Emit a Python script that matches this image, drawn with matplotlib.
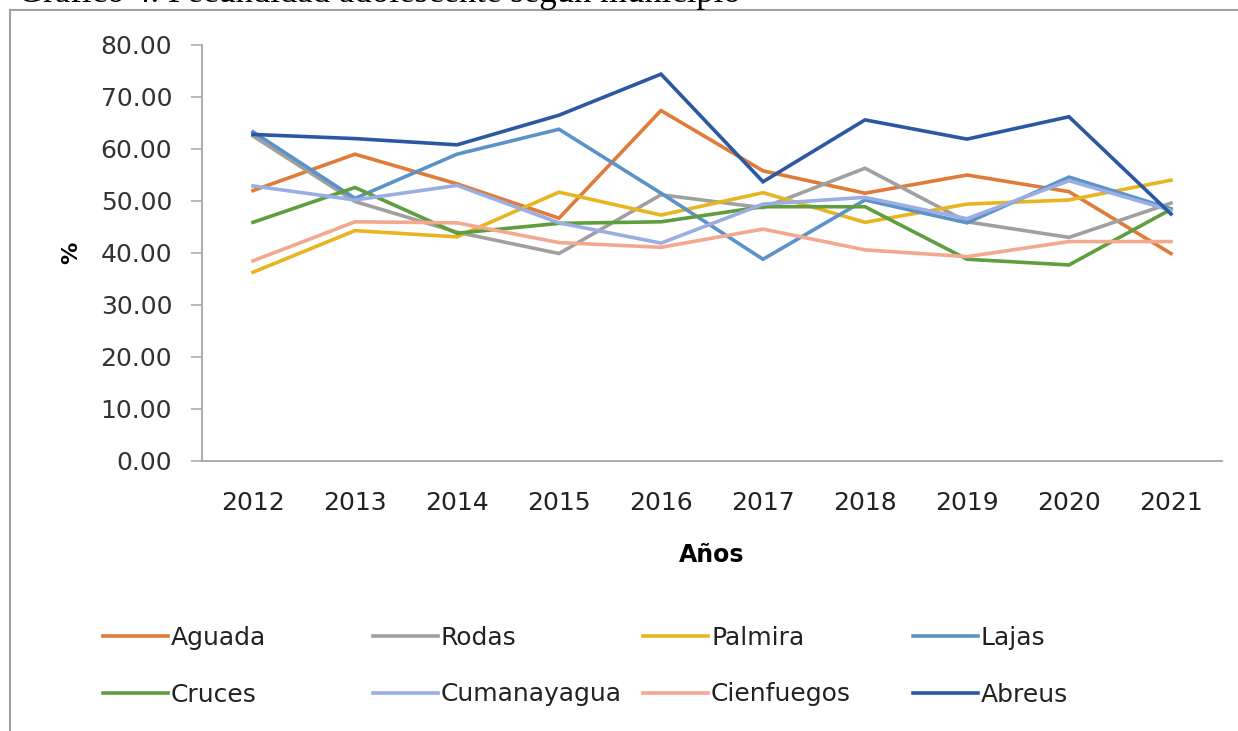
import matplotlib
matplotlib.use("Agg")
import matplotlib.pyplot as plt
from matplotlib.lines import Line2D

# data
years = ["2012", "2013", "2014", "2015", "2016", "2017", "2018", "2019", "2020", "2021"]

aguada = [52.0, 59.0, 53.3, 46.7, 67.4, 55.8, 51.5, 55.0, 51.8, 39.9]
rodas = [62.5, 49.9, 44.0, 39.9, 51.2, 48.7, 56.3, 46.0, 43.0, 49.6]
palmira = [36.3, 44.3, 43.1, 51.7, 47.3, 51.6, 45.9, 49.4, 50.2, 54.0]
lajas = [63.3, 50.5, 59.0, 63.8, 51.5, 38.8, 50.2, 45.8, 54.6, 48.5]
cruces = [45.9, 52.6, 43.8, 45.7, 46.0, 48.9, 48.9, 38.8, 37.7, 48.4]
cumanayagua = [52.9, 50.2, 53.0, 45.8, 41.9, 49.4, 50.7, 46.6, 53.9, 48.2]
cienfuegos = [38.5, 46.0, 45.8, 42.0, 41.1, 44.6, 40.6, 39.3, 42.2, 42.2]
abreus = [62.8, 62.0, 60.8, 66.5, 74.4, 53.7, 65.6, 61.9, 66.2, 47.5]

names = ["Aguada", "Rodas", "Palmira", "Lajas", "Cruces", "Cumanayagua", "Cienfuegos", "Abreus"]
series = [aguada, rodas, palmira, lajas, cruces, cumanayagua, cienfuegos, abreus]
colors = ["#E07B39", "#A0A0A0", "#E8B520", "#5B93C9", "#5E9E3E", "#9AAEE2", "#F2A98E", "#2B57A3"]

plt.rcParams['font.family'] = ['DejaVu Sans']

# set figure parameters
fig = plt.figure(figsize=(12.38, 7.31), dpi=100)
ax = fig.add_axes([202/1238, 1 - 461/731, 1020/1238, (461 - 45)/731])

# do plot
x = list(range(len(years)))
handles = []
for name, vals, col in zip(names, series, colors):
    ln, = ax.plot(x, vals, color=col, lw=2.6, label=name, solid_joinstyle='miter')
    handles.append(ln)

ax.set_xlim(-0.5, len(years) - 0.5)
ax.set_ylim(0, 80)
ax.set_yticks(range(0, 81, 10))
ax.set_yticklabels(["%.2f" % v for v in range(0, 81, 10)])
ax.set_xticks(x)
ax.set_xticklabels(years)

ax.spines['top'].set_visible(False)
ax.spines['right'].set_visible(False)
for s in ['left', 'bottom']:
    ax.spines[s].set_color('#A6A6A6')
    ax.spines[s].set_linewidth(1.3)
ax.tick_params(axis='y', length=8, width=1.1, color='#A6A6A6', pad=13.5, labelsize=18, labelcolor='#333333')
ax.tick_params(axis='x', length=0, pad=21.5, labelsize=18, labelcolor='#222222')

ax.set_xlabel("Años", fontsize=17, fontweight='bold', labelpad=20)
ax.set_ylabel("%", fontsize=16, fontweight='bold')
ax.yaxis.set_label_coords(-0.118, 0.5)

# legend: 4 columns of 2 rows
col_x = [103/1238, 373/1238, 643/1238, 913/1238]
for i in range(4):
    leg = fig.legend(handles=[handles[i], handles[i + 4]], loc='upper left',
                     bbox_to_anchor=(col_x[i], 1 - 626/731), frameon=False,
                     fontsize=18, handlelength=2.6, handletextpad=0.12,
                     borderpad=0, borderaxespad=0, labelspacing=1.3)
    for t in leg.get_texts():
        t.set_color('#222222')

# chart border
fig.add_artist(Line2D([10/1238, 10/1238], [0, 1 - 10/731], color='#A0A0A0', lw=1.5))
fig.add_artist(Line2D([10/1238, 1], [1 - 10/731, 1 - 10/731], color='#A0A0A0', lw=1.5))

# caption above the chart, cut off by the top edge as in the source image
fig.text(18/1238, 1 - 2/731, "Gráfico 4. Fecundidad adolescente según municipio",
         fontsize=25, family='Liberation Serif', va='baseline', ha='left')

plt.savefig("out.png", dpi=100)
